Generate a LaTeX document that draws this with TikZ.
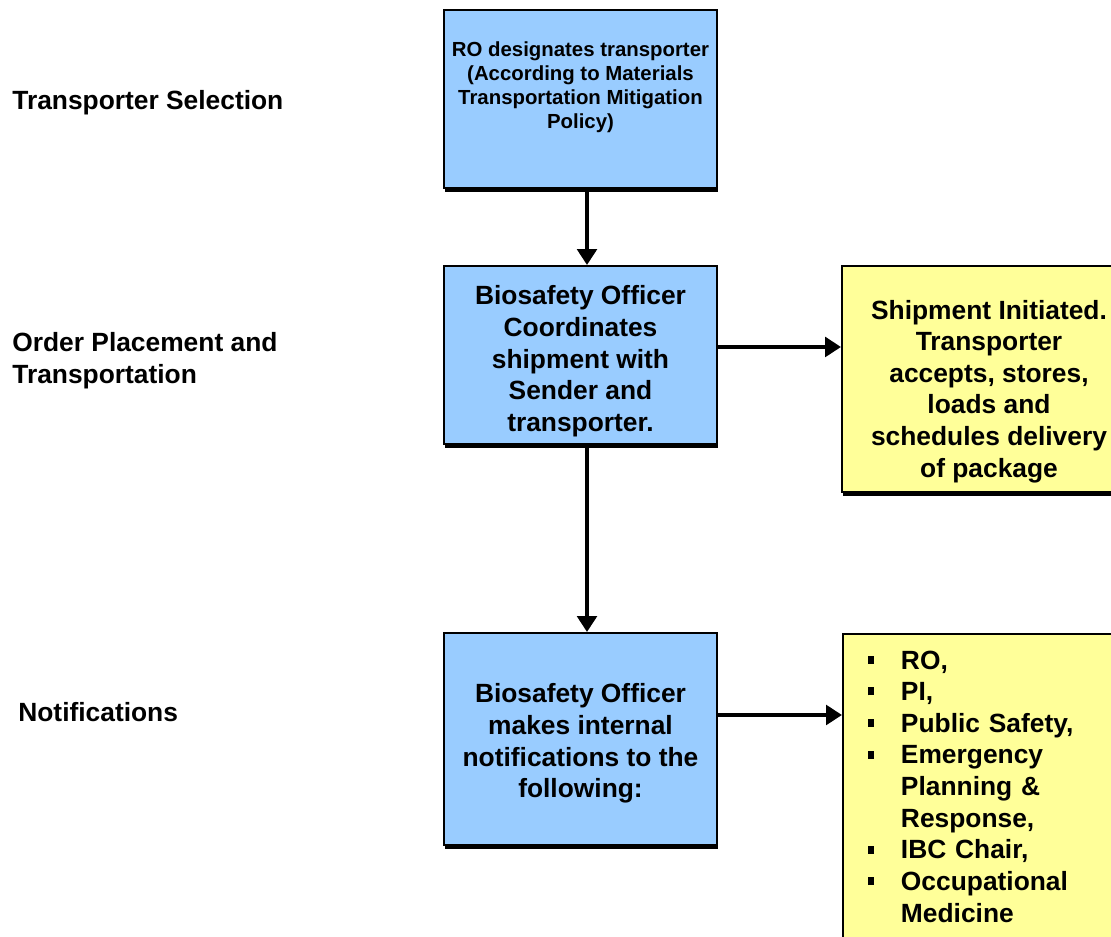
\documentclass[tikz,border=0pt]{standalone}
\usepackage{fontspec}
\setmainfont{Liberation Sans}
\usetikzlibrary{arrows.meta,shadows}
\definecolor{boxblue}{HTML}{99CCFF}
\definecolor{boxyellow}{HTML}{FFFF99}
\newcommand{\sqitem}{\makebox[0.66cm][l]{\rule[3pt]{3.5pt}{4.5pt}}}
\tikzset{
	flowbox/.style={draw=black, line width=1.1pt, align=center, inner sep=0pt,
		font=\bfseries\fontsize{15}{18}\selectfont,
		drop shadow={shadow xshift=0.7pt, shadow yshift=-2.4pt, fill=black, opacity=1}},
	bluebox/.style={flowbox, fill=boxblue, minimum width=5.46cm},
	yellowbox/.style={flowbox, fill=boxyellow, minimum width=5.88cm},
	stage/.style={anchor=west, align=left, inner xsep=0pt, font=\bfseries\fontsize{15}{18}\selectfont},
	flowarrow/.style={-{Triangle[length=9pt,width=11pt]}, line width=2.3pt},
}

\begin{document}
\begin{tikzpicture}
		%%%%% START %%%%%
		\useasboundingbox (0, 0) rectangle (22.22, 18.74);
		
		\node[stage] (lblselect) at (0.24, 16.68) {Transporter Selection};
		\node[stage] (lblorder) at (0.24, 11.52) {Order Placement and\\Transportation};
		\node[stage] (lblnotify) at (0.36, 4.5) {Notifications};
		
		\node[bluebox, minimum height=3.56cm, text depth=0.55cm, font=\bfseries\fontsize{11.6}{13.6}\selectfont] (select) at (11.61, 16.76)
			{RO designates transporter\\(According to Materials\\Transportation Mitigation\\Policy)};
		\node[bluebox, minimum height=3.56cm] (move) at (11.61, 11.64)
			{\rule{0pt}{18pt}Biosafety Officer\\Coordinates\\shipment with\\Sender and\\transporter.};
		\node[yellowbox, minimum height=4.52cm] (ship) at (19.78, 11.16)
			{\rule{0pt}{25pt}Shipment Initiated.\\Transporter\\accepts, stores,\\loads and\\schedules delivery\\of package};
		\node[bluebox, minimum height=4.24cm] (notify) at (11.61, 3.96)
			{\rule{0pt}{16pt}Biosafety Officer\\makes internal\\notifications to the\\following:};
		\node[yellowbox, anchor=north west, minimum height=6.1cm, align=left, text width=5.4cm, inner xsep=0.5cm] (people) at (16.84, 6.08)
			{\sqitem RO,\\\sqitem PI,\\\sqitem Public Safety,\\\sqitem Emergency\\\hspace*{0.66cm}Planning \&\\\hspace*{0.66cm}Response,\\\sqitem IBC Chair,\\\sqitem Occupational\\\hspace*{0.66cm}Medicine};
		
		\draw[flowarrow] ([xshift=0.13cm]select.south) -- ([xshift=0.13cm]move.north);
		\draw[flowarrow] ([xshift=0.13cm]move.south) -- ([xshift=0.13cm]notify.north);
		\draw[flowarrow] ([yshift=0.16cm]move.east) -- ([yshift=0.16cm]move.east -| ship.west);
		\draw[flowarrow] ([yshift=0.48cm]notify.east) -- ([yshift=0.48cm]notify.east -| people.west);
		%%%%% END %%%%%
\end{tikzpicture}
\end{document}
